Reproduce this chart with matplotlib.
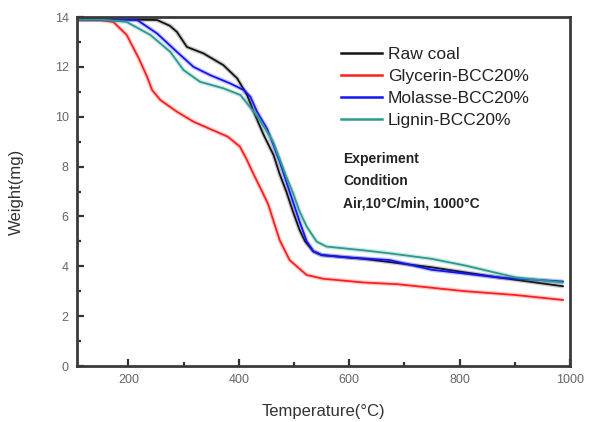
"""TGA weight-loss curves of raw coal and the three binder/coal blends (air, 10 C/min)."""
import matplotlib
matplotlib.use("Agg")
import matplotlib.pyplot as plt
from matplotlib.ticker import MultipleLocator

plt.rcParams["font.family"] = ["Liberation Sans", "DejaVu Sans"]

# ---- values ----------------------------------------------------------------
raw_T = [107, 200, 252, 275, 288, 306, 336, 372, 397, 415, 427, 445, 463, 474,
         486, 498, 510, 520, 535, 550, 600, 626, 749, 871, 987]
raw_W = [13.9, 13.9, 13.88, 13.65, 13.4, 12.8, 12.54, 12.07, 11.54, 10.87, 10.2,
         9.27, 8.46, 7.7, 7.0, 6.2, 5.46, 5.0, 4.6, 4.45, 4.35, 4.3, 3.96, 3.55, 3.2]

gly_T = [107, 150, 173, 197, 219, 234, 243, 258, 288, 318, 354, 380, 402, 414,
         426, 440, 453, 474, 492, 510, 523, 553, 626, 688, 810, 900, 987]
gly_W = [13.9, 13.88, 13.8, 13.28, 12.34, 11.6, 11.07, 10.67, 10.2, 9.8, 9.45,
         9.2, 8.8, 8.3, 7.73, 7.1, 6.5, 5.05, 4.25, 3.9, 3.65, 3.5, 3.35, 3.28,
         3.0, 2.85, 2.65]

mol_T = [107, 180, 216, 252, 288, 318, 348, 384, 409, 421, 433, 451, 462, 474,
         486, 498, 510, 523, 535, 550, 600, 673, 749, 871, 987]
mol_W = [13.9, 13.9, 13.88, 13.34, 12.6, 12.0, 11.67, 11.34, 11.07, 10.8, 10.2,
         9.53, 8.9, 8.2, 7.4, 6.6, 5.8, 5.0, 4.6, 4.45, 4.35, 4.25, 3.86, 3.55, 3.39]

lig_T = [107, 150, 197, 240, 276, 300, 330, 372, 403, 427, 438, 462, 474, 486,
         498, 510, 523, 541, 559, 626, 673, 749, 810, 902, 987]
lig_W = [13.9, 13.9, 13.8, 13.28, 12.6, 11.87, 11.4, 11.14, 10.87, 10.2, 9.87,
         9.0, 8.3, 7.6, 6.95, 6.2, 5.59, 4.99, 4.79, 4.64, 4.52, 4.3, 4.03, 3.55, 3.35]

labels = ["Raw coal", "Glycerin-BCC20%", "Molasse-BCC20%", "Lignin-BCC20%"]
colors = ["#141414", "#ff1e1e", "#1414f5", "#2a9a8c"]
series = [(raw_T, raw_W), (gly_T, gly_W), (mol_T, mol_W), (lig_T, lig_W)]

fig = plt.figure(figsize=(5.89, 4.22), dpi=100)
ax = fig.add_axes([0.1307, 0.1327, 0.8373, 0.827])

for (t, w), c, lab in zip(series, colors, labels):
    ax.plot(t, w, color=c, lw=3.2, alpha=0.22, solid_capstyle="butt")  # soft halo
    ax.plot(t, w, color=c, lw=1.3, label=lab)

ax.set_xlim(107, 1000)
ax.set_ylim(0, 14)
ax.xaxis.set_major_locator(MultipleLocator(200))
ax.xaxis.set_minor_locator(MultipleLocator(100))
ax.yaxis.set_major_locator(MultipleLocator(2))
ax.yaxis.set_minor_locator(MultipleLocator(1))
ax.tick_params(which="both", direction="in", top=False, right=False,
               colors="#333333", labelcolor="#666666", labelsize=9, width=1.6)
ax.tick_params(which="major", length=5, pad=6)
ax.tick_params(which="minor", length=3)
for sp in ax.spines.values():
    sp.set_linewidth(2.0)
    sp.set_color("#3a3a3a")

ax.set_xlabel("Temperature(°C)", fontsize=12, color="#333333", labelpad=13)
ax.set_ylabel("Weight(mg)", fontsize=12, color="#333333", labelpad=22)

leg = ax.legend(loc="upper left", bbox_to_anchor=(0.535, 0.915), frameon=False,
                fontsize=12.5, handlelength=2.4, handletextpad=0.3,
                labelspacing=0.4, borderpad=0, borderaxespad=0)
for h in leg.get_lines():
    h.set_linewidth(1.8)
for t in leg.get_texts():
    t.set_color("#222222")

cond = ["Experiment", "Condition", "Air,10°C/min, 1000°C"]
for i, s in enumerate(cond):
    ax.text(0.5396, 0.593 - i * 0.0635, s, transform=ax.transAxes, va="center",
            ha="left", fontsize=10, fontweight="bold", color="#222222")

fig.savefig("out.png", dpi=100)
